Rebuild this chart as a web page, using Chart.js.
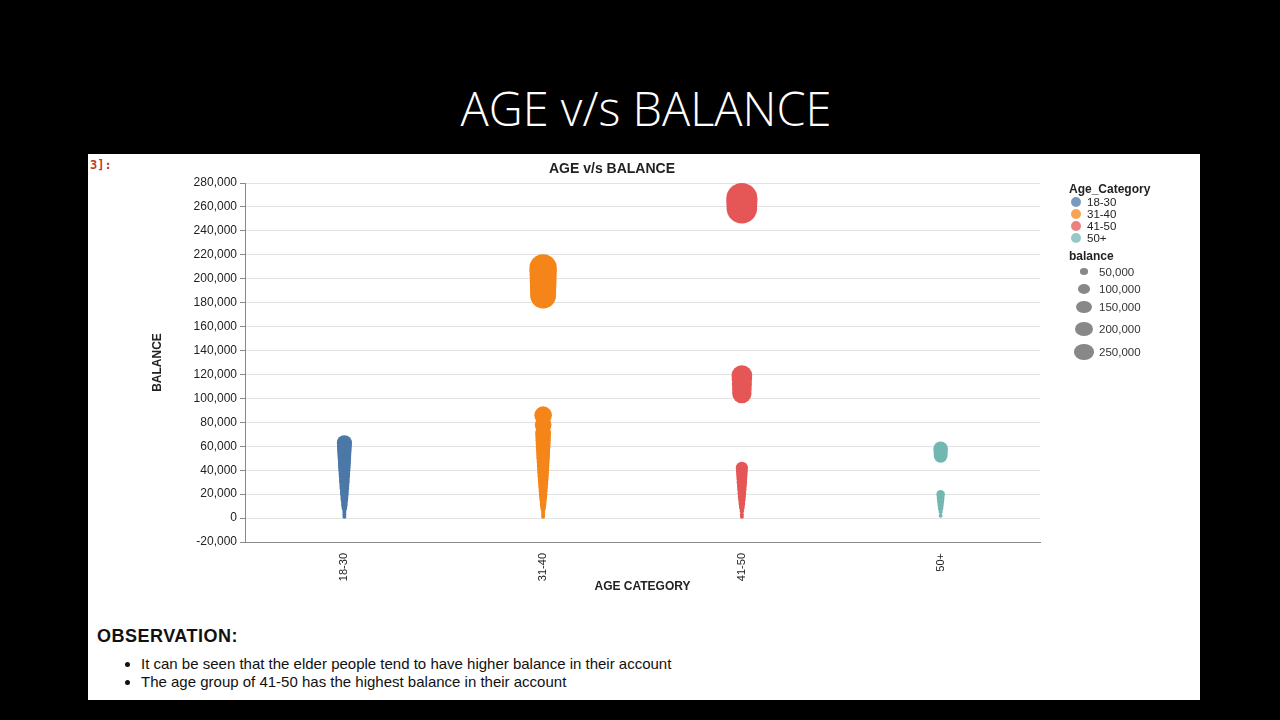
<!DOCTYPE html>
<html>
<head>
<meta charset="utf-8">
<script src="https://cdn.jsdelivr.net/npm/chart.js@4"></script>
<style>
  body { margin: 0; width: 1280px; height: 720px; background: #000; overflow: hidden; font-family: "Liberation Sans", Arial, sans-serif; }
  #title { position: absolute; top: 76px; left: 0; width: 1292px; text-align: center; color: #fff; font-family: "Open Sans", sans-serif; font-weight: 300; font-size: 47px; }
  #panel { position: absolute; left: 88px; top: 154px; width: 1112px; height: 546px; background: #fff; }
  #prompt { position: absolute; left: 2px; top: 4px; color: #c0392b; font-family: "DejaVu Sans Mono", monospace; font-size: 12px; font-weight: bold; }
  #ctitle { position: absolute; left: 461px; top: 6px; font-weight: bold; font-size: 14px; color: #222; }
  canvas { position: absolute; left: 0; top: 0; }
  #legend { position: absolute; left: 981px; top: 26px; font-size: 11.5px; color: #222; }
  #legend .h { font-weight: bold; font-size: 12px; margin-top: 2px; }
  #legend .r { display: flex; align-items: center; height: 12px; }
  #legend .d { display: inline-block; width: 10px; height: 10px; border-radius: 50%; margin: 0 6px 0 2px; opacity: .75; }
  #legend .s { display: flex; align-items: center; color: #333; }
  #legend .s span.c { display: inline-block; background: #888; border-radius: 50%; }
  #obs { position: absolute; left: 9px; top: 472px; color: #111; }
  #obs .t { font-weight: bold; font-size: 18px; letter-spacing: 0.5px; }
  #obs ul { margin: 8px 0 0 0; padding-left: 44px; font-size: 15px; line-height: 18px; }
</style>
</head>
<body>
<div id="title">AGE v/s BALANCE</div>
<div id="panel">
  <div id="prompt">3]:</div>
  <canvas id="chart" width="1112" height="440"></canvas>
  <div id="ctitle">AGE v/s BALANCE</div>
  <div id="legend"></div>
  <div id="obs">
    <div class="t">OBSERVATION:</div>
    <ul>
      <li>It can be seen that the elder people tend to have higher balance in their account</li>
      <li>The age group of 41-50 has the highest balance in their account</li>
    </ul>
  </div>
</div>
<script>
const categories = ['18-30', '31-40', '41-50', '50+'];
const colors = ['#4c78a8', '#f58518', '#e45756', '#72b7b2'];
const balance1830 = [1000, 3000, 5000, 8000, 10000, 12000, 15000, 17000, 20000, 22000, 25000, 27000, 30000, 32000, 35000, 37000, 40000, 42000, 44000, 46000, 48000, 50000, 52000, 54000, 56000, 58000, 60000, 62000, 63000];
const balance3140 = [1000, 3000, 5000, 8000, 10000, 12000, 15000, 18000, 20000, 23000, 26000, 29000, 32000, 35000, 38000, 41000, 44000, 47000, 50000, 53000, 56000, 59000, 62000, 65000, 68000, 71000, 78000, 86000, 186000, 190000, 194000, 198000, 202000, 206000, 209000];
const balance4150 = [1000, 3000, 6000, 9000, 12000, 15000, 18000, 21000, 24000, 27000, 30000, 33000, 36000, 39000, 42000, 104000, 108000, 112000, 116000, 119000, 259000, 262000, 265000, 267000];
const balance50 = [2000, 5000, 8000, 11000, 14000, 17000, 20000, 52000, 54000, 56000, 58000];
const yTicks = [-20000, 0, 20000, 40000, 60000, 80000, 100000, 120000, 140000, 160000, 180000, 200000, 220000, 240000, 260000, 280000];
const legendSizes = [50000, 100000, 150000, 200000, 250000];

const radius = b => Math.sqrt(Math.max(b, 0)) * 0.03;
const series = [balance1830, balance3140, balance4150, balance50];

const datasets = series.map((vals, i) => ({
    label: categories[i],
    data: vals.map(v => ({ x: i, y: v, r: Math.max(radius(v), 2) })),
    backgroundColor: colors[i],
    borderWidth: 0
}));

new Chart(document.getElementById('chart'), {
    type: 'bubble',
    data: { datasets },
    options: {
        responsive: false,
        animation: false,
        layout: { padding: { left: 62, right: 160, top: 29, bottom: 0 } },
        plugins: { legend: { display: false }, tooltip: { enabled: false } },
        scales: {
            x: {
                type: 'linear', min: -0.5, max: 3.5,
                afterFit: s => { s.height = 52; },
                afterBuildTicks: s => { s.ticks = categories.map((c, i) => ({ value: i })); },
                ticks: { callback: v => categories[v], minRotation: 90, maxRotation: 90, color: '#222', font: { family: 'Liberation Sans Narrow, Liberation Sans', size: 11 } },
                grid: { display: false, drawTicks: true },
                border: { color: '#888' },
                title: { display: true, text: 'AGE CATEGORY', color: '#222', font: { weight: 'bold', size: 12 }, padding: { top: -6, bottom: 0 } }
            },
            y: {
                min: -20000, max: 280000,
                afterFit: s => { s.width = 95; },
                afterBuildTicks: s => { s.ticks = yTicks.map(v => ({ value: v })); },
                ticks: { callback: v => v.toLocaleString('en-US'), color: '#222', font: { size: 12 } },
                grid: { color: '#e2e2e2', tickColor: '#888', tickLength: 5 },
                border: { color: '#888' },
                title: { display: true, text: 'BALANCE', color: '#222', padding: 0, font: { family: 'Liberation Sans Narrow, Liberation Sans', weight: 'bold', size: 12 } }
            }
        }
    }
});

// legend
const lg = document.getElementById('legend');
let html = '<div class="h">Age_Category</div>';
categories.forEach((c, i) => {
    html += `<div class="r"><span class="d" style="background:${colors[i]}"></span>${c}</div>`;
});
html += '<div class="h" style="margin-top:5px">balance</div>';
legendSizes.forEach(b => {
    const d = radius(b) * 1.3;
    html += `<div class="s" style="height:${Math.max(d, 12) + 5}px"><span style="width:30px;display:flex;justify-content:center"><span class="c" style="width:${d}px;height:${d * 0.8}px"></span></span>${b.toLocaleString('en-US')}</div>`;
});
lg.innerHTML = html;
</script>
</body>
</html>
